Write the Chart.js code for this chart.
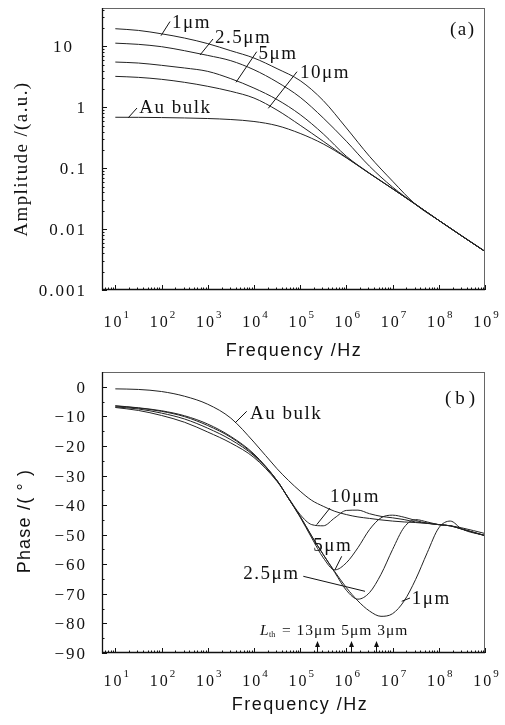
<!DOCTYPE html>
<html>
<head>
<meta charset="utf-8">
<title>Amplitude and phase vs frequency</title>
<script src="https://cdn.jsdelivr.net/npm/chart.js@4.4.1/dist/chart.umd.min.js"></script>
<style>
  html, body { margin: 0; padding: 0; background: #fff; }
  canvas { position: absolute; left: 0; }
  .fontwarm { position: absolute; left: -999px; top: 0; }
</style>
</head>
<body>
<span class="fontwarm" style="font-family:'Liberation Serif'">Amplitude 0.1</span>
<span class="fontwarm" style="font-family:'Liberation Serif';font-style:italic">L</span>
<span class="fontwarm" style="font-family:'Liberation Sans'">Frequency</span>
<canvas id="ampChart" width="505" height="362" style="top:0"></canvas>
<canvas id="phaseChart" width="505" height="363" style="top:362px"></canvas>
<script>
// (a) amplitude, half-decade steps
const ampFreq = [10, 31.6, 100, 316, 1e3, 3.16e3, 1e4, 3.16e4, 1e5, 3.16e5, 1e6, 3.16e6, 1e7, 3.16e7, 1e8, 3.16e8, 1e9];
const amp1um = [19.5, 18.3, 16.1, 13.7, 11.1, 8.49, 6.44, 4.31, 2.74, 1.29, 0.458, 0.157, 0.0612, 0.0254, 0.0139, 0.0077, 0.0043];
const amp2p5um = [11.3, 10.8, 9.89, 8.49, 7.11, 5.82, 4.14, 2.60, 1.46, 0.668, 0.277, 0.108, 0.0489, 0.0256, 0.0139, 0.0077, 0.0043];
const amp5um = [5.53, 5.33, 4.89, 4.42, 3.89, 2.95, 2.07, 1.34, 0.759, 0.366, 0.157, 0.083, 0.046, 0.0254, 0.0139, 0.0077, 0.0043];
const amp10um = [3.22, 3.10, 2.88, 2.57, 2.21, 1.83, 1.42, 0.90, 0.507, 0.277, 0.150, 0.082, 0.046, 0.0254, 0.0139, 0.0077, 0.0043];
const ampAuBulk = [0.686, 0.684, 0.678, 0.668, 0.654, 0.630, 0.585, 0.500, 0.372, 0.250, 0.148, 0.082, 0.046, 0.0254, 0.0139, 0.0077, 0.0043];

// (b) phase, finer steps above 10^4 Hz
const phaseFreq = [10, 31.6, 100, 316, 1e3, 3.16e3, 1e4, 3.16e4, 5.62e4, 1e5, 1.78e5, 3.16e5, 5.62e5, 1e6, 1.78e6, 3.16e6, 5.62e6, 1e7, 1.78e7, 3.16e7, 5.62e7, 1e8, 1.78e8, 3.16e8, 1e9];
const phase1um = [-6.4, -7.1, -8.1, -9.8, -12.6, -16.8, -22.7, -31.7, -37.8, -43.8, -50.5, -56.7, -62.5, -67.9, -72.4, -75.8, -77.6, -76.7, -72.4, -65.1, -56.1, -47.7, -45.4, -48.1, -50.3];
const phase2p5um = [-6.5, -7.2, -8.3, -10.1, -13.1, -17.1, -23.0, -31.7, -37.8, -43.8, -50.5, -56.7, -62.8, -68.8, -71.8, -69.6, -63.4, -55.0, -47.5, -44.9, -45.7, -46.6, -47.0, -48.1, -50.3];
const phase5um = [-6.8, -7.5, -8.9, -10.9, -14.0, -17.9, -23.3, -31.7, -37.8, -44.1, -51.1, -57.8, -61.9, -59.5, -54.4, -48.3, -44.3, -43.4, -44.1, -45.2, -46.1, -46.6, -47.0, -48.1, -50.3];
const phase10um = [-7.0, -8.0, -9.7, -12.0, -15.3, -19.0, -23.9, -32.0, -37.6, -43.2, -46.6, -47.0, -44.3, -41.8, -41.7, -42.9, -43.8, -44.3, -44.9, -45.7, -46.1, -46.6, -47.0, -48.1, -50.3];
const phaseAuBulk = [-0.7, -0.9, -1.6, -3.2, -5.9, -10.6, -18.7, -27.7, -31.7, -35.3, -38.4, -40.4, -42.1, -43.2, -44.0, -44.5, -45.0, -45.4, -45.7, -45.9, -46.2, -46.6, -47.0, -47.7, -49.6];

// tick labels
const freqTickExp = [1, 2, 3, 4, 5, 6, 7, 8, 9];
const ampTickValues = [0.001, 0.01, 0.1, 1, 10];
const ampTickLabels = ['0.001', '0.01', '0.1', '1', '10'];
const phaseTickValues = [0, -10, -20, -30, -40, -50, -60, -70, -80, -90];
const phaseTickLabels = ['0', '\u221210', '\u221220', '\u221230', '\u221240', '\u221250', '\u221260', '\u221270', '\u221280', '\u221290'];

// thermal length markers (Lth = 13, 5, 3 um)
const lthFreqs = [2.37e5, 1.25e6, 4.4e6];

const serif = '"Liberation Serif", "Times New Roman", serif';
const sans = '"Liberation Sans", Arial, sans-serif';
const ink = '#111';

function pts(freq, vals) {
    return freq.map((f, i) => ({ x: f, y: vals[i] }));
}

function text(ctx, s, x, y, font, spacing, align) {
    ctx.save();
    ctx.font = font;
    ctx.letterSpacing = (spacing || 0) + 'px';
    ctx.textAlign = align || 'left';
    ctx.textBaseline = 'alphabetic';
    ctx.fillStyle = ink;
    ctx.fillText(s, align === 'right' ? x + (spacing || 0) : x, y);
    ctx.restore();
}

function seg(ctx, x1, y1, x2, y2, w) {
    ctx.beginPath();
    ctx.lineWidth = w || 1;
    ctx.moveTo(x1, y1);
    ctx.lineTo(x2, y2);
    ctx.stroke();
}

// draws frame, inward ticks, tick labels, titles and annotations
function framePlugin(cfg) {
    return {
        id: 'frame_' + cfg.name,
        afterDraw(chart) {
            const ctx = chart.ctx, a = chart.chartArea;
            const xs = chart.scales.x, ys = chart.scales.y;
            ctx.save();
            ctx.strokeStyle = '#666';
            seg(ctx, a.left, a.top + 0.5, a.right, a.top + 0.5, 1);
            seg(ctx, a.right - 0.5, a.top, a.right - 0.5, a.bottom, 1);
            ctx.strokeStyle = ink;
            seg(ctx, a.left + 0.5, a.top, a.left + 0.5, a.bottom + 0.5, 1.3);
            seg(ctx, a.left, a.bottom - 0.5, a.right, a.bottom - 0.5, 1.3);

            // x ticks (log)
            for (let d = 0; d <= 9; d++) {
                for (let k = 1; k <= 9; k++) {
                    const v = k * Math.pow(10, d);
                    if (v < xs.min || v > xs.max) continue;
                    const px = Math.round(xs.getPixelForValue(v)) + 0.5;
                    seg(ctx, px, a.bottom, px, a.bottom - (k === 1 ? 5 : 2.5), 1);
                }
            }
            // y ticks
            if (cfg.logY) {
                for (let d = -3; d <= 1; d++) {
                    for (let k = 1; k <= 9; k++) {
                        const v = k * Math.pow(10, d);
                        if (v < ys.min || v > ys.max) continue;
                        const py = Math.round(ys.getPixelForValue(v)) + 0.5;
                        seg(ctx, a.left, py, a.left + (k === 1 ? 5 : 2.5), py, 1);
                    }
                }
            } else {
                for (let v = -90; v <= 0; v += 5) {
                    const py = Math.round(ys.getPixelForValue(v)) + 0.5;
                    seg(ctx, a.left, py, a.left + (v % 10 === 0 ? 5 : 2.5), py, 1);
                }
            }

            // x tick labels: 10 with superscript exponent
            freqTickExp.forEach(e => {
                const px = xs.getPixelForValue(Math.pow(10, e));
                ctx.font = '16px ' + serif;
                ctx.letterSpacing = '2px';
                const w1 = ctx.measureText('10').width;
                ctx.font = '11px ' + serif;
                ctx.letterSpacing = '0px';
                const w2 = ctx.measureText(String(e)).width;
                const x0 = px - (w1 + w2) / 2 + 1;
                const base = a.bottom + cfg.xLabelOffset;
                text(ctx, '10', x0, base, '16px ' + serif, 2);
                text(ctx, String(e), x0 + w1, base - 9, '11px ' + serif, 0);
            });

            // y tick labels (the top "10" of panel a sits a little left in the original)
            cfg.yTicks.forEach((v, i) => {
                const py = ys.getPixelForValue(v);
                const lab = cfg.yLabels[i];
                const nudge = (cfg.yNudge && cfg.yNudge[lab]) || 0;
                text(ctx, lab, 85 + nudge, py + 6, '17px ' + serif, 2, 'right');
            });

            // axis titles
            text(ctx, 'Frequency /Hz', cfg.xTitleX, cfg.xTitleY, '18px ' + sans, 1.5, 'center');
            ctx.save();
            ctx.translate(cfg.yTitleX, cfg.yTitleY);
            ctx.rotate(-Math.PI / 2);
            text(ctx, cfg.yTitle, 0, 0, cfg.yTitleFont, cfg.yTitleSpacing, 'center');
            ctx.restore();

            // panel letter
            text(ctx, cfg.panel[0], cfg.panel[1], cfg.panel[2], '19px ' + serif, cfg.panel[3]);

            // curve labels with leader lines
            ctx.strokeStyle = ink;
            cfg.notes.forEach(n => {
                text(ctx, n.t, n.x, n.y, '19px ' + serif, 1.5);
                seg(ctx, n.l[0], n.l[1], n.l[2], n.l[3], 1);
            });

            if (cfg.lth) {
                const base = 272.5;
                text(ctx, 'L', 260, base, 'italic 15.5px ' + serif, 0);
                text(ctx, 'th', 269, base + 2, '8px ' + serif, 0);
                text(ctx, ' = 13\u03bcm 5\u03bcm 3\u03bcm', 277, base, '15.5px ' + serif, 1);
                ctx.fillStyle = ink;
                lthFreqs.forEach(f => {
                    const px = Math.round(xs.getPixelForValue(f)) + 0.5;
                    seg(ctx, px, a.bottom, px, a.bottom - 8, 1);
                    ctx.beginPath();
                    ctx.moveTo(px, a.bottom - 12);
                    ctx.lineTo(px - 2.5, a.bottom - 6);
                    ctx.lineTo(px + 2.5, a.bottom - 6);
                    ctx.closePath();
                    ctx.fill();
                });
            }
            ctx.restore();
        }
    };
}

const common = {
    responsive: false,
    animation: false,
    devicePixelRatio: 1,
    plugins: { legend: { display: false }, tooltip: { enabled: false } },
    elements: {
        point: { radius: 0 },
        line: { borderWidth: 1, borderColor: '#222', cubicInterpolationMode: 'monotone' }
    }
};

function xScale() {
    return {
        type: 'logarithmic', min: 5.15, max: 1e9,
        grid: { display: false }, border: { display: false }, ticks: { display: false },
        afterFit: s => { s.height = 72; }
    };
}

function drawCharts() {
    new Chart(document.getElementById('ampChart'), {
        type: 'line',
        data: {
            datasets: [
                { data: pts(ampFreq, amp1um) },
                { data: pts(ampFreq, amp2p5um) },
                { data: pts(ampFreq, amp5um) },
                { data: pts(ampFreq, amp10um) },
                { data: pts(ampFreq, ampAuBulk) }
            ]
        },
        options: Object.assign({}, common, {
            layout: { padding: { top: 8, right: 20, left: 0, bottom: 0 } },
            scales: {
                x: xScale(),
                y: {
                    type: 'logarithmic', min: 0.001, max: 42.7,
                    grid: { display: false }, border: { display: false }, ticks: { display: false },
                    afterFit: s => { s.width = 102; }
                }
            }
        }),
        plugins: [framePlugin({
            name: 'amp', logY: true, xLabelOffset: 37,
            yTicks: ampTickValues, yLabels: ampTickLabels, yNudge: { '10': -13 },
            xTitleX: 294, xTitleY: 356,
            yTitle: 'Amplitude /(a.u.)', yTitleX: 27, yTitleY: 159, yTitleFont: '19px ' + serif, yTitleSpacing: 1.4,
            panel: ['(a)', 450, 35, 1.5],
            notes: [
                { t: '1\u03bcm', x: 172, y: 27.5, l: [170, 21.5, 161, 35.7] },
                { t: '2.5\u03bcm', x: 215, y: 42.5, l: [213, 39, 200, 55] },
                { t: '5\u03bcm', x: 258.5, y: 59, l: [256.7, 51.7, 236, 82.3] },
                { t: '10\u03bcm', x: 300, y: 77.5, l: [297, 71.7, 268.3, 108.3] },
                { t: 'Au bulk', x: 139.3, y: 112.5, l: [137, 108, 128.3, 117.7] }
            ]
        })]
    });

    new Chart(document.getElementById('phaseChart'), {
        type: 'line',
        data: {
            datasets: [
                { data: pts(phaseFreq, phase1um) },
                { data: pts(phaseFreq, phase2p5um) },
                { data: pts(phaseFreq, phase5um) },
                { data: pts(phaseFreq, phase10um) },
                { data: pts(phaseFreq, phaseAuBulk) }
            ]
        },
        options: Object.assign({}, common, {
            layout: { padding: { top: 10, right: 20, left: 0, bottom: 0 } },
            scales: {
                x: xScale(),
                y: {
                    type: 'linear', min: -90, max: 5,
                    grid: { display: false }, border: { display: false }, ticks: { display: false },
                    afterFit: s => { s.width = 102; }
                }
            }
        }),
        plugins: [framePlugin({
            name: 'phase', logY: false, xLabelOffset: 33, lth: true,
            yTicks: phaseTickValues, yLabels: phaseTickLabels,
            xTitleX: 300, xTitleY: 348,
            yTitle: 'Phase /( \u00b0 )', yTitleX: 30, yTitleY: 159, yTitleFont: '18px ' + sans, yTitleSpacing: 1.2,
            panel: ['(b)', 445, 42, 4],
            notes: [
                { t: 'Au bulk', x: 250, y: 56.8, l: [246.7, 49.3, 235, 61] },
                { t: '10\u03bcm', x: 330, y: 140, l: [330, 146, 316.7, 162.7] },
                { t: '5\u03bcm', x: 313.3, y: 188.5, l: [341.7, 194.3, 335, 207.7] },
                { t: '2.5\u03bcm', x: 243.3, y: 217, l: [303.3, 214.3, 365, 229.3] },
                { t: '1\u03bcm', x: 411.7, y: 242, l: [410, 236, 401.7, 239.3] }
            ]
        })]
    });
}

// make sure the system fonts are resolved before the canvases paint text
Promise.all([
    document.fonts.load('17px "Liberation Serif"'),
    document.fonts.load('italic 15px "Liberation Serif"'),
    document.fonts.load('18px "Liberation Sans"')
]).then(drawCharts, drawCharts);
</script>
</body>
</html>
